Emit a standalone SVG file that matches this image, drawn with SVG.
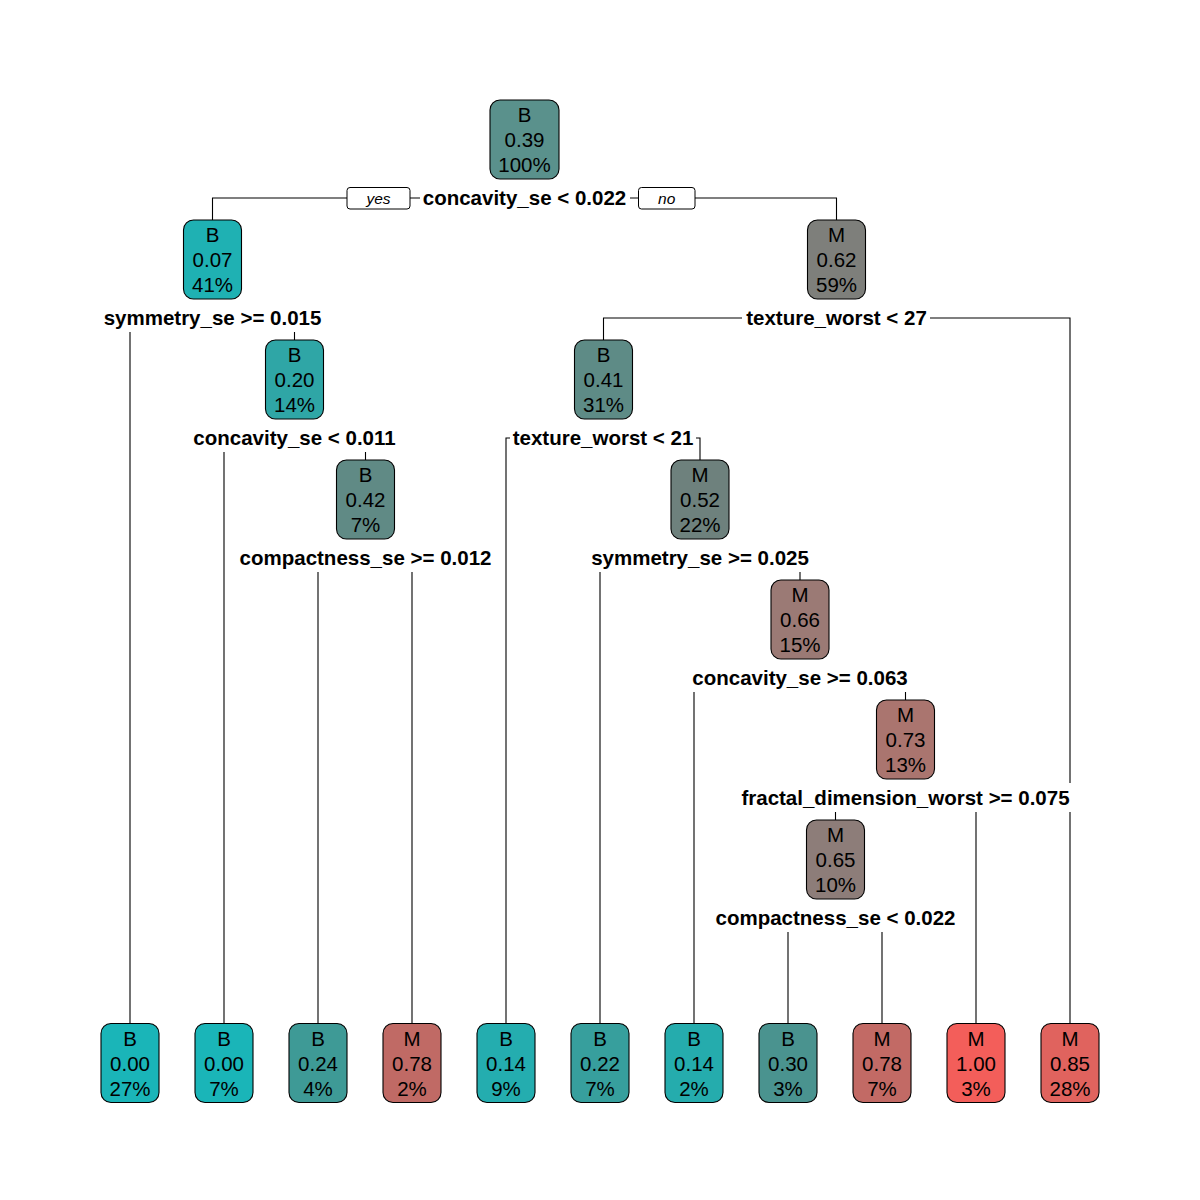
<svg xmlns="http://www.w3.org/2000/svg" width="1200" height="1200" viewBox="0 0 1200 1200">
<style>
.box{stroke:#000;stroke-width:1.1}
.t{font-family:"Liberation Sans",Arial,sans-serif;font-size:20.5px;text-anchor:middle;fill:#000}
.lab{font-family:"Liberation Sans",Arial,sans-serif;font-size:20.5px;font-weight:bold;text-anchor:middle;fill:#000}
.yn{font-family:"Liberation Sans",Arial,sans-serif;font-size:15.5px;font-style:italic;text-anchor:middle;fill:#000}
.bg{fill:#fff;stroke:none}
.ynb{fill:#fff;stroke:#000;stroke-width:1}
.c{fill:none;stroke:#000;stroke-width:1.1}
</style>
<rect width="1200" height="1200" fill="#fff"/>
<g id="connectors">
<path class="c" d="M212.5,220 V198 H836.5 V220"/>
<path class="c" d="M130,1023.5 V318 H294.5 V340"/>
<path class="c" d="M603.5,340 V318 H1070 V1023.5"/>
<path class="c" d="M224,1023.5 V438 H365.5 V460"/>
<path class="c" d="M506,1023.5 V438 H700 V460"/>
<path class="c" d="M318,1023.5 V558 H412 V1023.5"/>
<path class="c" d="M600,1023.5 V558 H800 V580"/>
<path class="c" d="M694,1023.5 V678 H905.5 V700"/>
<path class="c" d="M835.5,820 V798 H976 V1023.5"/>
<path class="c" d="M788,1023.5 V918 H882 V1023.5"/>
</g>
<g id="labels">
<rect class="ynb" x="347" y="187.5" width="63" height="21.5" rx="3"/>
<text class="yn" x="378.5" y="203.5">yes</text>
<rect class="ynb" x="638.5" y="187.5" width="56.5" height="21.5" rx="3"/>
<text class="yn" x="666.7" y="203.5">no</text>
<rect class="bg" x="420" y="183" width="210" height="29"/>
<text class="lab" x="524.5" y="205">concavity_se &lt; 0.022</text>
<rect class="bg" x="100" y="303" width="225" height="29"/>
<text class="lab" x="212.5" y="325">symmetry_se &gt;= 0.015</text>
<rect class="bg" x="742" y="303" width="188" height="29"/>
<text class="lab" x="836.5" y="325">texture_worst &lt; 27</text>
<rect class="bg" x="190" y="423" width="209" height="29"/>
<text class="lab" x="294.5" y="445">concavity_se &lt; 0.011</text>
<rect class="bg" x="510" y="423" width="186" height="29"/>
<text class="lab" x="603" y="445">texture_worst &lt; 21</text>
<rect class="bg" x="237" y="543" width="258" height="29"/>
<text class="lab" x="365.5" y="565">compactness_se &gt;= 0.012</text>
<rect class="bg" x="588" y="543" width="225" height="29"/>
<text class="lab" x="700" y="565">symmetry_se &gt;= 0.025</text>
<rect class="bg" x="689" y="663" width="222" height="29"/>
<text class="lab" x="800" y="685">concavity_se &gt;= 0.063</text>
<rect class="bg" x="738" y="783" width="336" height="29"/>
<text class="lab" x="905.5" y="805">fractal_dimension_worst &gt;= 0.075</text>
<rect class="bg" x="712" y="903" width="247" height="29"/>
<text class="lab" x="835.5" y="925">compactness_se &lt; 0.022</text>
</g>
<g id="n1"><rect class="box" x="490" y="100" width="69" height="79" rx="10" fill="#5A918C"/><text class="t" x="524.5" y="122">B</text><text class="t" x="524.5" y="147">0.39</text><text class="t" x="524.5" y="172">100%</text></g>
<g id="n2"><rect class="box" x="183.5" y="220" width="58" height="79" rx="10" fill="#1FB1B3"/><text class="t" x="212.5" y="242">B</text><text class="t" x="212.5" y="267">0.07</text><text class="t" x="212.5" y="292">41%</text></g>
<g id="n3"><rect class="box" x="807.5" y="220" width="58" height="79" rx="10" fill="#7E7F7B"/><text class="t" x="836.5" y="242">M</text><text class="t" x="836.5" y="267">0.62</text><text class="t" x="836.5" y="292">59%</text></g>
<g id="n4"><rect class="box" x="265.5" y="340" width="58" height="79" rx="10" fill="#2FA6A6"/><text class="t" x="294.5" y="362">B</text><text class="t" x="294.5" y="387">0.20</text><text class="t" x="294.5" y="412">14%</text></g>
<g id="n5"><rect class="box" x="574.5" y="340" width="58" height="79" rx="10" fill="#5E8B86"/><text class="t" x="603.5" y="362">B</text><text class="t" x="603.5" y="387">0.41</text><text class="t" x="603.5" y="412">31%</text></g>
<g id="n6"><rect class="box" x="336.5" y="460" width="58" height="79" rx="10" fill="#608A85"/><text class="t" x="365.5" y="482">B</text><text class="t" x="365.5" y="507">0.42</text><text class="t" x="365.5" y="532">7%</text></g>
<g id="n7"><rect class="box" x="671" y="460" width="58" height="79" rx="10" fill="#6E817D"/><text class="t" x="700" y="482">M</text><text class="t" x="700" y="507">0.52</text><text class="t" x="700" y="532">22%</text></g>
<g id="n8"><rect class="box" x="771" y="580" width="58" height="79" rx="10" fill="#9B7A75"/><text class="t" x="800" y="602">M</text><text class="t" x="800" y="627">0.66</text><text class="t" x="800" y="652">15%</text></g>
<g id="n9"><rect class="box" x="876.5" y="700" width="58" height="79" rx="10" fill="#AA756F"/><text class="t" x="905.5" y="722">M</text><text class="t" x="905.5" y="747">0.73</text><text class="t" x="905.5" y="772">13%</text></g>
<g id="n10"><rect class="box" x="806.5" y="820" width="58" height="79" rx="10" fill="#8D7D79"/><text class="t" x="835.5" y="842">M</text><text class="t" x="835.5" y="867">0.65</text><text class="t" x="835.5" y="892">10%</text></g>
<g id="leaf1"><rect class="box" x="101" y="1023.5" width="58" height="79" rx="10" fill="#1AB5B8"/><text class="t" x="130" y="1045.5">B</text><text class="t" x="130" y="1070.5">0.00</text><text class="t" x="130" y="1095.5">27%</text></g>
<g id="leaf2"><rect class="box" x="195" y="1023.5" width="58" height="79" rx="10" fill="#1AB5B8"/><text class="t" x="224" y="1045.5">B</text><text class="t" x="224" y="1070.5">0.00</text><text class="t" x="224" y="1095.5">7%</text></g>
<g id="leaf3"><rect class="box" x="289" y="1023.5" width="58" height="79" rx="10" fill="#3E9A96"/><text class="t" x="318" y="1045.5">B</text><text class="t" x="318" y="1070.5">0.24</text><text class="t" x="318" y="1095.5">4%</text></g>
<g id="leaf4"><rect class="box" x="383" y="1023.5" width="58" height="79" rx="10" fill="#C06A65"/><text class="t" x="412" y="1045.5">M</text><text class="t" x="412" y="1070.5">0.78</text><text class="t" x="412" y="1095.5">2%</text></g>
<g id="leaf5"><rect class="box" x="477" y="1023.5" width="58" height="79" rx="10" fill="#24ADAF"/><text class="t" x="506" y="1045.5">B</text><text class="t" x="506" y="1070.5">0.14</text><text class="t" x="506" y="1095.5">9%</text></g>
<g id="leaf6"><rect class="box" x="571" y="1023.5" width="58" height="79" rx="10" fill="#379F9D"/><text class="t" x="600" y="1045.5">B</text><text class="t" x="600" y="1070.5">0.22</text><text class="t" x="600" y="1095.5">7%</text></g>
<g id="leaf7"><rect class="box" x="665" y="1023.5" width="58" height="79" rx="10" fill="#25ACAD"/><text class="t" x="694" y="1045.5">B</text><text class="t" x="694" y="1070.5">0.14</text><text class="t" x="694" y="1095.5">2%</text></g>
<g id="leaf8"><rect class="box" x="759" y="1023.5" width="58" height="79" rx="10" fill="#4A938F"/><text class="t" x="788" y="1045.5">B</text><text class="t" x="788" y="1070.5">0.30</text><text class="t" x="788" y="1095.5">3%</text></g>
<g id="leaf9"><rect class="box" x="853" y="1023.5" width="58" height="79" rx="10" fill="#C26A65"/><text class="t" x="882" y="1045.5">M</text><text class="t" x="882" y="1070.5">0.78</text><text class="t" x="882" y="1095.5">7%</text></g>
<g id="leaf10"><rect class="box" x="947" y="1023.5" width="58" height="79" rx="10" fill="#F35E5A"/><text class="t" x="976" y="1045.5">M</text><text class="t" x="976" y="1070.5">1.00</text><text class="t" x="976" y="1095.5">3%</text></g>
<g id="leaf11"><rect class="box" x="1041" y="1023.5" width="58" height="79" rx="10" fill="#E0635E"/><text class="t" x="1070" y="1045.5">M</text><text class="t" x="1070" y="1070.5">0.85</text><text class="t" x="1070" y="1095.5">28%</text></g>
</svg>
